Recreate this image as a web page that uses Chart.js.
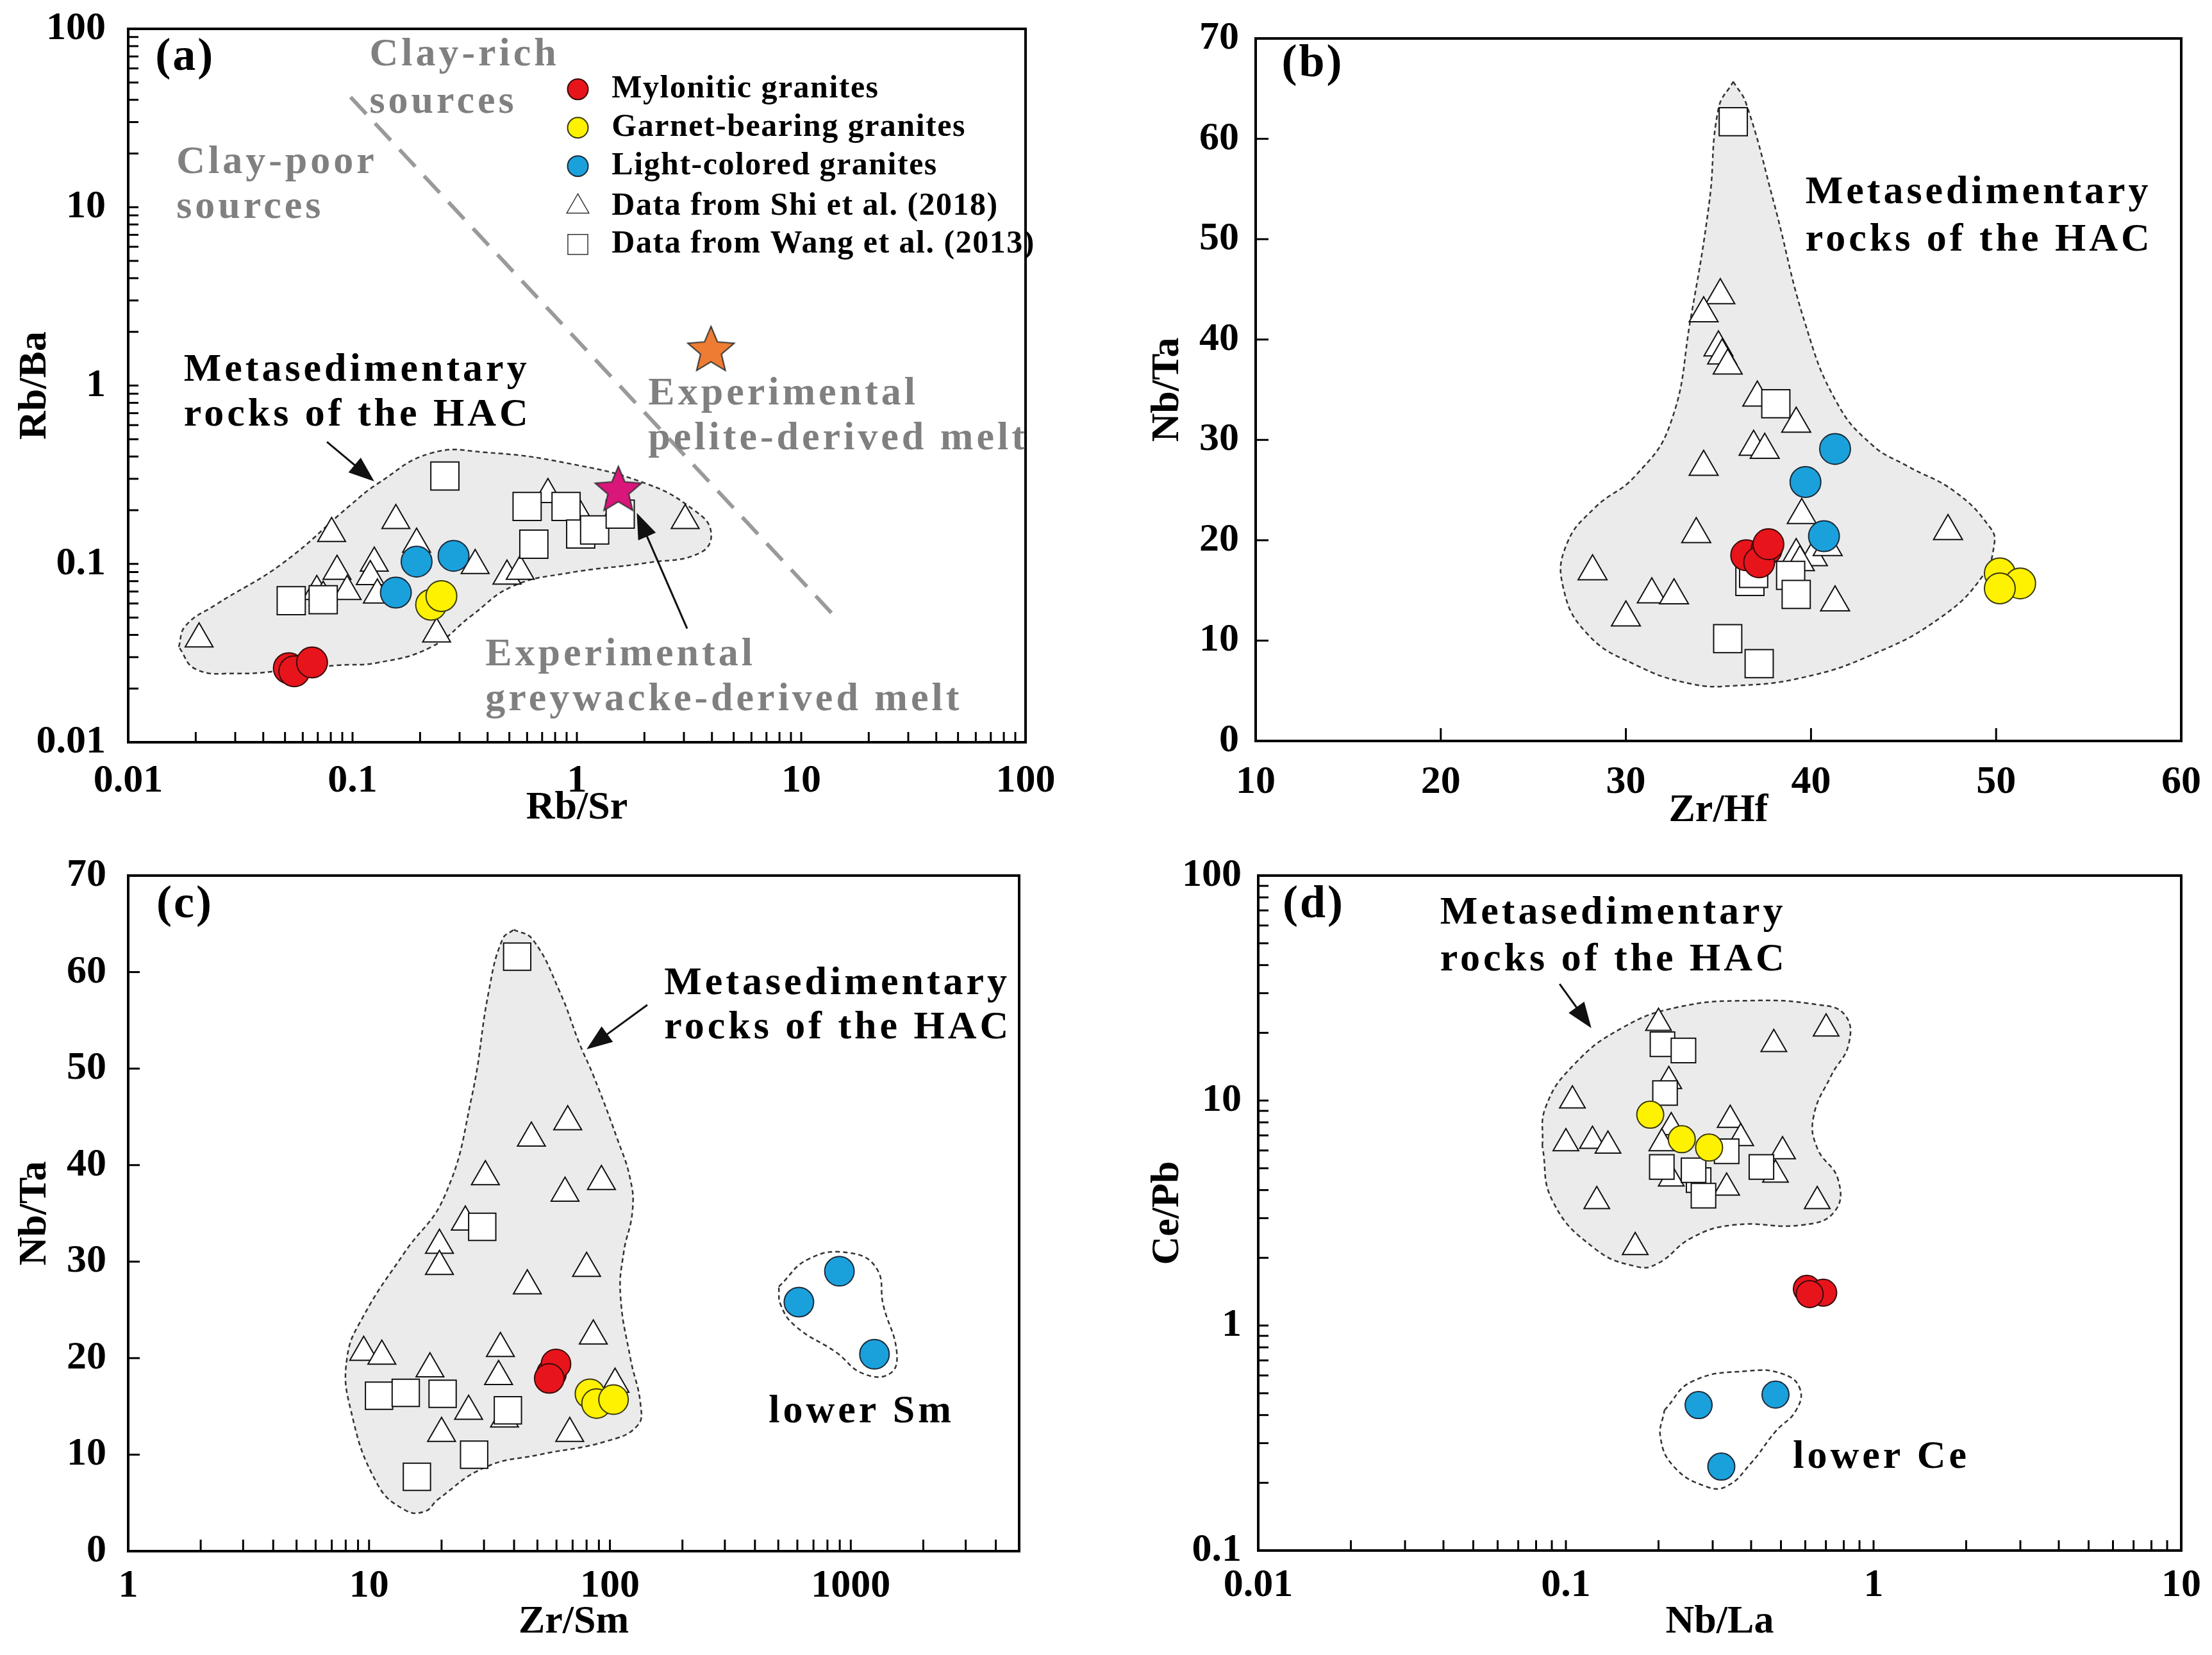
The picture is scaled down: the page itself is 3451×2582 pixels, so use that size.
<!DOCTYPE html>
<html>
<head>
<meta charset="utf-8">
<script src="https://cdn.jsdelivr.net/npm/chart.js@4.4.1/dist/chart.umd.min.js"></script>
<style>
  html, body { margin: 0; padding: 0; background: #fff; }
  body { width: 3451px; height: 2582px; position: relative; overflow: hidden; }
  canvas { position: absolute; }
</style>
</head>
<body>
<canvas id="chartA" width="1700" height="1300" style="left:0;top:0"></canvas>
<canvas id="chartB" width="1701" height="1300" style="left:1750px;top:0"></canvas>
<canvas id="chartC" width="1700" height="1292" style="left:0;top:1290px"></canvas>
<canvas id="chartD" width="1701" height="1292" style="left:1750px;top:1290px"></canvas>
<script>
// ---- data: (a) Rb/Sr vs Rb/Ba ----
const aMylonitic = [[0.052, 0.026], [0.055, 0.025], [0.066, 0.028]];
const aGarnet = [[0.224, 0.059], [0.249, 0.066]];
const aLight = [[0.156, 0.069], [0.193, 0.103], [0.282, 0.111]];
const aShi = [[0.0207, 0.038], [0.0807, 0.148], [0.0693, 0.070], [0.074, 0.065], [0.0853, 0.091],
  [0.0946, 0.070], [0.125, 0.101], [0.12, 0.085], [0.129, 0.067], [0.156, 0.175], [0.193, 0.129],
  [0.237, 0.0405], [0.352, 0.098], [0.488, 0.0855], [0.559, 0.091], [0.743, 0.245], [1.0, 0.2],
  [3.04, 0.175], [1.55, 0.21]];
const aWang = [[0.0533, 0.0622], [0.074, 0.063], [0.258, 0.311], [0.60, 0.21], [0.895, 0.21],
  [0.643, 0.129], [1.04, 0.147], [1.2, 0.155], [1.56, 0.19]];
const aPeliteMelt = [[3.96, 1.62]];
const aGreywackeMelt = [[1.53, 0.266]];
const aClayLine = [[0.098, 41.4], [14.7, 0.048]];
const aEnvelope = [[0.0168, 0.0342], [0.018, 0.0449], [0.0245, 0.0589], [0.0491, 0.1014], [0.098, 0.214],
  [0.129, 0.281], [0.224, 0.418], [0.391, 0.422], [0.895, 0.368], [2.05, 0.281], [3.33, 0.2],
  [3.96, 0.152], [3.57, 0.116], [2.05, 0.1014], [0.895, 0.0885], [0.515, 0.0747], [0.34, 0.0514],
  [0.224, 0.0342], [0.129, 0.0279], [0.0853, 0.027], [0.0491, 0.0252], [0.0302, 0.0243],
  [0.02, 0.0257], [0.0168, 0.0342]];
const aXTicks = [0.01, 0.1, 1, 10, 100];
const aYTicks = [0.01, 0.1, 1, 10, 100];

// ---- data: (b) Zr/Hf vs Nb/Ta ----
const bMylonitic = [[36.5, 18.5], [37.6, 19.1], [37.2, 17.8], [37.7, 19.6]];
const bGarnet = [[50.2, 16.7], [51.3, 15.7], [50.2, 15.2]];
const bLight = [[41.3, 29.1], [39.7, 25.8], [40.7, 20.4]];
const bShi = [[35.1, 44.4], [34.2, 42.6], [35.0, 39.2], [35.2, 38.4], [35.5, 37.4], [37.1, 34.2],
  [39.2, 31.6], [36.9, 29.3], [37.5, 29.0], [34.2, 27.3], [39.5, 22.5], [47.4, 20.9], [33.8, 20.6],
  [39.2, 18.5], [40.1, 18.3], [39.4, 17.8], [40.9, 19.3], [28.2, 16.9], [31.4, 14.6], [32.6, 14.5],
  [30.0, 12.3], [41.3, 13.8]];
const bWang = [[35.8, 61.7], [38.1, 33.6], [36.7, 15.9], [36.9, 16.7], [38.9, 16.5], [39.2, 14.6],
  [35.5, 10.2], [37.2, 7.7]];
const bEnvelope = [[35.8, 65.7], [36.5, 63.5], [38.0, 53.6], [39.7, 41.5], [41.4, 33.7], [43.3, 29.5],
  [45.2, 27.4], [47.8, 24.8], [49.7, 21.2], [49.9, 19.6], [49.3, 16.5], [47.0, 12.3], [43.3, 8.6],
  [39.5, 6.3], [35.8, 5.5], [33.5, 5.7], [30.5, 7.6], [27.9, 10.7], [26.6, 15.4], [26.8, 19.6],
  [28.3, 23.2], [30.5, 26.4], [32.4, 31.6], [33.5, 42.1], [34.5, 53.6], [35.0, 63.0], [35.8, 65.7]];
const bXTicks = [10, 20, 30, 40, 50, 60];
const bYTicks = [0, 10, 20, 30, 40, 50, 60, 70];

// ---- data: (c) Zr/Sm vs Nb/Ta ----
const cMylonitic = [[57.2, 18.4], [59.7, 19.4], [56, 17.9]];
const cGarnet = [[82.6, 16.3], [88, 15.3], [103.5, 15.7]];
const cLight = [[609, 25.8], [897, 29.0], [1254, 20.4]];
const cShi = [[66.8, 44.5], [47.2, 42.8], [30.4, 38.8], [65.1, 37.1], [92.2, 38.3], [25.1, 34.1],
  [19.6, 31.7], [19.6, 29.5], [80, 29.3], [45.4, 27.5], [85.3, 22.3], [9.5, 20.6], [11.3, 20.2],
  [35.1, 21.0], [17.9, 18.9], [34.5, 18.1], [36.5, 13.7], [25.9, 14.5], [20, 12.2], [68.1, 12.2],
  [105, 17.3]];
const cWang = [[41.2, 61.6], [29.5, 33.6], [11.0, 16.1], [14.2, 16.4], [20.2, 16.3], [37.7, 14.6],
  [27.3, 10.0], [15.8, 7.7]];
const cEnvelope = [[39.9, 64.4], [47.7, 63.4], [61.8, 58.0], [75, 52.5], [85.3, 49.3], [107, 42.8],
  [121.6, 38.5], [124, 35.2], [114, 30.9], [110.6, 26.5], [121.6, 20.0], [134, 15.2], [130, 13.0],
  [97, 11.4], [51, 10.0], [30.4, 8.7], [19.4, 5.4], [17.0, 4.1], [14.0, 4.3], [10.8, 7.0],
  [8.4, 14.6], [8.1, 20.0], [9.5, 24.4], [14.0, 30.9], [20.6, 36.8], [26.7, 47.1], [31.4, 58.0],
  [35.8, 63.4], [39.9, 64.4]];
const cLowerSm = [[502, 27.4], [671, 30.3], [988, 30.9], [1279, 29.3], [1364, 25.5], [1552, 20.6],
  [1454, 18.4], [1124, 18.4], [869, 20.6], [590, 23.3], [512, 25.5], [502, 27.4]];
const cXTicks = [1, 10, 100, 1000];
const cYTicks = [0, 10, 20, 30, 40, 50, 60, 70];

// ---- data: (d) Nb/La vs Ce/Pb ----
const dMylonitic = [[0.607, 1.455], [0.686, 1.40], [0.62, 1.38]];
const dGarnet = [[0.188, 8.65], [0.238, 6.73], [0.292, 6.18]];
const dLight = [[0.27, 0.443], [0.48, 0.493], [0.32, 0.236]];
const dShi = [[0.2, 22.1], [0.701, 20.9], [0.474, 17.8], [0.105, 10], [0.216, 12.2], [0.1, 6.45],
  [0.122, 6.62], [0.137, 6.3], [0.342, 8.2], [0.37, 6.8], [0.506, 5.95], [0.48, 4.68], [0.126, 3.57],
  [0.333, 4.1], [0.656, 3.57], [0.168, 2.23], [0.22, 4.5], [0.22, 7.6], [0.205, 6.45]];
const dWang = [[0.206, 17.8], [0.241, 16.7], [0.21, 10.8], [0.205, 5.07], [0.27, 4.43], [0.28, 3.78],
  [0.333, 5.95], [0.432, 5.07], [0.26, 4.9]];
const dEnvelope = [[0.0838, 6.28], [0.086, 9.37], [0.106, 14.4], [0.152, 21.0], [0.231, 26.0],
  [0.39, 27.8], [0.656, 26.7], [0.807, 24.0], [0.83, 17.8], [0.728, 12.9], [0.638, 8.46],
  [0.656, 6.15], [0.767, 4.45], [0.748, 3.22], [0.59, 2.8], [0.351, 2.8], [0.257, 2.46],
  [0.198, 1.88], [0.169, 1.83], [0.124, 2.2], [0.0906, 3.57], [0.0838, 6.28]];
const dLowerCe = [[0.209, 0.42], [0.257, 0.564], [0.39, 0.628], [0.506, 0.61], [0.576, 0.525],
  [0.56, 0.42], [0.48, 0.338], [0.4, 0.245], [0.333, 0.193], [0.284, 0.193], [0.225, 0.235],
  [0.203, 0.317], [0.209, 0.42]];
const dXTicks = [0.01, 0.1, 1, 10];
const dYTicks = [0.1, 1, 10, 100];

const seriesNames = ['Mylonitic granites', 'Garnet-bearing granites', 'Light-colored granites',
  'Data from Shi et al. (2018)', 'Data from Wang et al. (2013)'];

// ---- styling ----
const FONT = '"Liberation Serif", "Times New Roman", serif';
const RED = '#e8141c', YELLOW = '#fff200', BLUE = '#1aa1dc';
const GREY_TEXT = '#808080';
Chart.defaults.font.family = FONT;
Chart.defaults.font.weight = 'bold';
Chart.defaults.color = '#000';

const toXY = arr => arr.map(([x, y]) => ({x, y}));

function makeStar(color, size) {
  const c = document.createElement('canvas');
  c.width = c.height = size;
  const g = c.getContext('2d');
  const R = size / 2 - 2, r = R * 0.45;
  g.beginPath();
  for (let i = 0; i < 10; i++) {
    const ang = -Math.PI / 2 + i * Math.PI / 5;
    const rr = i % 2 ? r : R;
    g.lineTo(size / 2 + rr * Math.cos(ang), size / 2 + 4 + rr * Math.sin(ang));
  }
  g.closePath();
  g.fillStyle = color; g.fill();
  g.lineWidth = 2; g.strokeStyle = '#333'; g.stroke();
  return c;
}

function logTicks(labels, min, max) {
  const out = [];
  labels.forEach(d => {
    for (let k = 1; k < 10; k++) {
      const v = +(d * k).toPrecision(6);
      if (v >= min * 0.999 && v <= max * 1.001) out.push(v);
    }
  });
  return out;
}

function makeScale(s) {
  const isLog = s.type === 'logarithmic';
  return {
    type: s.type, min: s.min, max: s.max,
    grid: {display: false}, border: {display: false},
    afterBuildTicks: scale => {
      const vals = isLog ? logTicks(s.labels, s.min, s.max) : s.labels;
      scale.ticks = vals.map(v => ({value: v}));
    },
    afterFit: scale => {
      if (s.width) scale.width = s.width;
      if (s.height) scale.height = s.height;
      // plot area is fixed by layout padding, not by label overhang
      scale.paddingTop = scale.paddingBottom = scale.paddingLeft = scale.paddingRight = 0;
    },
    ticks: {
      autoSkip: false, maxRotation: 0, minRotation: 0, padding: s.tickPad, color: '#000',
      font: {size: 62, weight: 'bold', lineHeight: 1},
      callback: v => s.labels.includes(v) ? String(v) : ''
    },
    title: {
      display: true, text: s.title, color: '#000',
      font: {size: 62, weight: 'bold', lineHeight: 1},
      padding: s.titlePad
    }
  };
}

function drawArrow(ctx, x1, y1, x2, y2) {
  const ang = Math.atan2(y2 - y1, x2 - x1);
  const hl = 40, hw = 15;
  ctx.beginPath();
  ctx.moveTo(x1, y1);
  ctx.lineTo(x2 - Math.cos(ang) * hl * 0.8, y2 - Math.sin(ang) * hl * 0.8);
  ctx.lineWidth = 3; ctx.strokeStyle = '#111'; ctx.stroke();
  ctx.beginPath();
  ctx.moveTo(x2, y2);
  ctx.lineTo(x2 - Math.cos(ang) * hl + Math.sin(ang) * hw, y2 - Math.sin(ang) * hl - Math.cos(ang) * hw);
  ctx.lineTo(x2 - Math.cos(ang) * hl - Math.sin(ang) * hw, y2 - Math.sin(ang) * hl + Math.cos(ang) * hw);
  ctx.closePath();
  ctx.fillStyle = '#111'; ctx.fill();
}

function decorPlugin(p) {
  return {
    id: 'decor',
    beforeDatasetDraw(chart, args) {
      const ds = chart.data.datasets[args.index];
      const line = args.meta.dataset;
      if (!ds.envelopeFill || !line) return;
      const ctx = chart.ctx;
      line.updateControlPoints(chart.chartArea, 'x');
      ctx.save();
      ctx.beginPath();
      line.path(ctx);
      ctx.closePath();
      ctx.fillStyle = ds.envelopeFill;
      ctx.fill();
      ctx.restore();
    },
    afterDraw(chart) {
      const {ctx, chartArea: a, scales} = chart;
      const X = v => scales.x.getPixelForValue(v), Y = v => scales.y.getPixelForValue(v);
      ctx.save();
      // inward tick marks
      ctx.strokeStyle = '#000'; ctx.lineWidth = 3;
      scales.x.ticks.forEach(t => {
        const px = X(t.value);
        if (px < a.left + 4 || px > a.right - 4) return;
        ctx.beginPath(); ctx.moveTo(px, a.bottom); ctx.lineTo(px, a.bottom - p.tickLen); ctx.stroke();
      });
      scales.y.ticks.forEach(t => {
        const py = Y(t.value);
        if (py < a.top + 4 || py > a.bottom - 4) return;
        ctx.beginPath(); ctx.moveTo(a.left, py); ctx.lineTo(a.left + p.tickLen, py); ctx.stroke();
      });
      // frame
      ctx.lineWidth = 4;
      ctx.strokeRect(a.left, a.top, a.right - a.left, a.bottom - a.top);
      // arrows
      (p.arrows || []).forEach(([[x1, y1], [x2, y2]]) => drawArrow(ctx, X(x1), Y(y1), X(x2), Y(y2)));
      // text labels
      ctx.textBaseline = 'middle';
      (p.texts || []).forEach(t => {
        ctx.font = `bold ${t.size || 62}px ${FONT}`;
        ctx.letterSpacing = (t.spacing == null ? 5 : t.spacing) + 'px';
        ctx.fillStyle = t.color || '#000';
        ctx.textAlign = 'left';
        ctx.fillText(t.text, X(t.x), Y(t.y));
      });
      // legend
      if (p.legend) {
        const L = p.legend;
        L.items.forEach((it, i) => {
          const mx = X(L.markerX), my = Y(L.rows[i]);
          ctx.fillStyle = it.fill; ctx.strokeStyle = it.stroke; ctx.lineWidth = it.lw;
          Chart.helpers.drawPoint(ctx, {pointStyle: it.style, radius: it.r, rotation: 0, borderWidth: it.lw}, mx, my);
          ctx.font = `bold 50px ${FONT}`;
          ctx.letterSpacing = '1.5px';
          ctx.fillStyle = '#000';
          ctx.textAlign = 'left';
          ctx.fillText(seriesNames[i], X(L.textX), my);
        });
      }
      ctx.restore();
    }
  };
}

function buildPanel(id, p) {
  const ds = [];
  (p.envelopes || []).forEach(env => ds.push({
    data: toXY(env.points), showLine: true, tension: 0.45, pointRadius: 0, pointHoverRadius: 0,
    borderColor: '#333', borderWidth: 2.5, borderDash: [7, 5], envelopeFill: env.fill, order: 30
  }));
  (p.lines || []).forEach(ln => ds.push({
    data: toXY(ln), showLine: true, tension: 0, pointRadius: 0, borderColor: '#9a9a9a',
    borderWidth: 6, borderDash: [36, 20], order: 25
  }));
  const m = p.marker;
  ds.push({label: seriesNames[3], data: toXY(p.shi), pointStyle: 'triangle', pointRadius: m.tri,
    backgroundColor: '#fff', borderColor: '#111', borderWidth: 2, order: 12});
  ds.push({label: seriesNames[4], data: toXY(p.wang), pointStyle: 'rect', pointRadius: m.sq,
    backgroundColor: '#fff', borderColor: '#111', borderWidth: 2, order: 11});
  ds.push({label: seriesNames[2], data: toXY(p.light), pointStyle: 'circle', pointRadius: m.circ,
    backgroundColor: BLUE, borderColor: '#1b2b3a', borderWidth: 2, order: 5});
  ds.push({label: seriesNames[1], data: toXY(p.garnet), pointStyle: 'circle', pointRadius: m.circ,
    backgroundColor: YELLOW, borderColor: '#3a3a10', borderWidth: 2, order: 4});
  ds.push({label: seriesNames[0], data: toXY(p.mylo), pointStyle: 'circle', pointRadius: m.circ,
    backgroundColor: RED, borderColor: '#3a0a0a', borderWidth: 2, order: 3});
  (p.stars || []).forEach(st => ds.push({
    data: toXY(st.points), pointStyle: makeStar(st.color, 80), pointRadius: 40, order: 1
  }));
  new Chart(document.getElementById(id), {
    type: 'scatter',
    data: {datasets: ds},
    options: {
      responsive: false, animation: false, devicePixelRatio: 1,
      layout: {padding: p.pad},
      plugins: {legend: {display: false}, tooltip: {enabled: false}},
      scales: {x: makeScale(p.x), y: makeScale(p.y)}
    },
    plugins: [decorPlugin(p)]
  });
}

// (a)
buildPanel('chartA', {
  pad: {left: 0, top: 45, right: 100, bottom: 8},
  x: {type: 'logarithmic', min: 0.01, max: 100, labels: aXTicks, title: 'Rb/Sr', height: 134, tickPad: 22, titlePad: {top: 0, bottom: 0}},
  y: {type: 'logarithmic', min: 0.01, max: 100, labels: aYTicks, title: 'Rb/Ba', width: 200, tickPad: 27, titlePad: {top: 24, bottom: 0}},
  tickLen: 16,
  marker: {tri: 25, sq: 31, circ: 24},
  mylo: aMylonitic, garnet: aGarnet, light: aLight, shi: aShi, wang: aWang,
  envelopes: [{points: aEnvelope, fill: '#ebebeb'}],
  lines: [aClayLine],
  stars: [{points: aPeliteMelt, color: '#ee7d33'}, {points: aGreywackeMelt, color: '#d9167a'}],
  arrows: [[[0.0769, 0.483], [0.125, 0.29]], [[3.1, 0.0434], [1.85, 0.193]]],
  texts: [
    {x: 0.0132, y: 68.9, text: '(a)', size: 72, spacing: 3},
    {x: 0.119, y: 71.2, text: 'Clay-rich', color: GREY_TEXT},
    {x: 0.119, y: 38.7, text: 'sources', color: GREY_TEXT},
    {x: 0.0164, y: 17.7, text: 'Clay-poor', color: GREY_TEXT},
    {x: 0.0164, y: 9.93, text: 'sources', color: GREY_TEXT},
    {x: 0.0177, y: 1.21, text: 'Metasedimentary'},
    {x: 0.0177, y: 0.68, text: 'rocks of the HAC'},
    {x: 2.08, y: 0.891, text: 'Experimental', color: GREY_TEXT},
    {x: 2.08, y: 0.5, text: 'pelite-derived melt', color: GREY_TEXT},
    {x: 0.391, y: 0.0309, text: 'Experimental', color: GREY_TEXT},
    {x: 0.391, y: 0.0173, text: 'greywacke-derived melt', color: GREY_TEXT}
  ],
  legend: {
    markerX: 1.01, textX: 1.43, rows: [45.8, 27.9, 17.0, 10.07, 6.18],
    items: [
      {style: 'circle', r: 16, fill: RED, stroke: '#3a0a0a', lw: 2},
      {style: 'circle', r: 16, fill: YELLOW, stroke: '#3a3a10', lw: 2},
      {style: 'circle', r: 16, fill: BLUE, stroke: '#1b2b3a', lw: 2},
      {style: 'triangle', r: 20, fill: '#fff', stroke: '#333', lw: 1.5},
      {style: 'rect', r: 22, fill: '#fff', stroke: '#333', lw: 1.5}
    ]
  }
});

// (b)
buildPanel('chartB', {
  pad: {left: 0, top: 60, right: 48, bottom: 4},
  x: {type: 'linear', min: 10, max: 60, labels: bXTicks, title: 'Zr/Hf', height: 140, tickPad: 26, titlePad: {top: 0, bottom: 0}},
  y: {type: 'linear', min: 0, max: 70, labels: bYTicks, title: 'Nb/Ta', width: 209, tickPad: 18, titlePad: {top: 41, bottom: 0}},
  tickLen: 20,
  marker: {tri: 26, sq: 31, circ: 24},
  mylo: bMylonitic, garnet: bGarnet, light: bLight, shi: bShi, wang: bWang,
  envelopes: [{points: bEnvelope, fill: '#ebebeb'}],
  texts: [
    {x: 11.4, y: 67.4, text: '(b)', size: 72, spacing: 3},
    {x: 39.7, y: 54.6, text: 'Metasedimentary'},
    {x: 39.7, y: 49.9, text: 'rocks of the HAC'}
  ]
});

// (c)
buildPanel('chartC', {
  pad: {left: 0, top: 76, right: 110, bottom: 20},
  x: {type: 'logarithmic', min: 1, max: 5000, labels: cXTicks, title: 'Zr/Sm', height: 142, tickPad: 16, titlePad: {top: 0, bottom: 0}},
  y: {type: 'linear', min: 0, max: 70, labels: cYTicks, title: 'Nb/Ta', width: 200, tickPad: 26, titlePad: {top: 24, bottom: 0}},
  tickLen: 18,
  marker: {tri: 25, sq: 30, circ: 23},
  mylo: cMylonitic, garnet: cGarnet, light: cLight, shi: cShi, wang: cWang,
  envelopes: [{points: cEnvelope, fill: '#ebebeb'}, {points: cLowerSm, fill: null}],
  arrows: [[[143, 56.6], [80, 52.0]]],
  texts: [
    {x: 1.31, y: 66.9, text: '(c)', size: 72, spacing: 3},
    {x: 168, y: 58.8, text: 'Metasedimentary'},
    {x: 168, y: 54.2, text: 'rocks of the HAC'},
    {x: 456, y: 14.4, text: 'lower Sm'}
  ]
});

// (d)
buildPanel('chartD', {
  pad: {left: 0, top: 76, right: 48, bottom: 20},
  x: {type: 'logarithmic', min: 0.01, max: 10, labels: dXTicks, title: 'Nb/La', height: 143, tickPad: 16, titlePad: {top: 0, bottom: 0}},
  y: {type: 'logarithmic', min: 0.1, max: 100, labels: dYTicks, title: 'Ce/Pb', width: 213, tickPad: 18, titlePad: {top: 41, bottom: 0}},
  tickLen: 16,
  marker: {tri: 23, sq: 27, circ: 21},
  mylo: dMylonitic, garnet: dGarnet, light: dLight, shi: dShi, wang: dWang,
  envelopes: [{points: dEnvelope, fill: '#ebebeb'}, {points: dLowerCe, fill: null}],
  arrows: [[[0.0954, 33], [0.121, 21]]],
  texts: [
    {x: 0.012, y: 73.7, text: '(d)', size: 72, spacing: 3},
    {x: 0.039, y: 68, text: 'Metasedimentary'},
    {x: 0.039, y: 42, text: 'rocks of the HAC'},
    {x: 0.547, y: 0.259, text: 'lower Ce'}
  ]
});
</script>
</body>
</html>
